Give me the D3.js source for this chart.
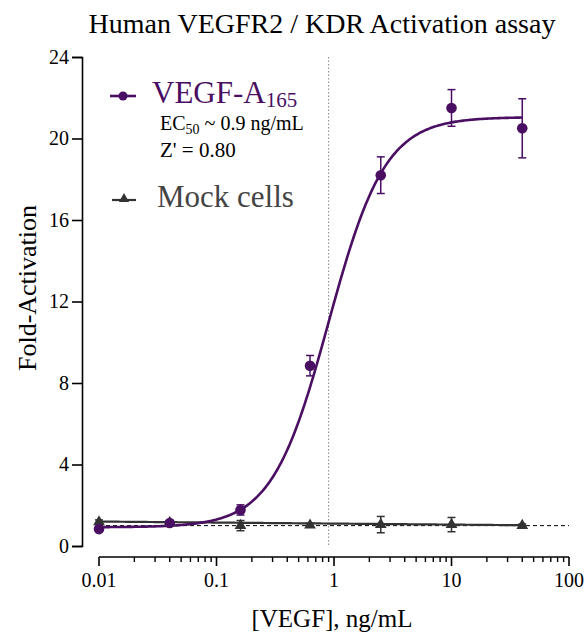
<!DOCTYPE html>
<html>
<head>
<meta charset="utf-8">
<script src="https://cdn.jsdelivr.net/npm/d3@7"></script>
<style>
  body { margin: 0; background: #fff; }
  svg text { font-family: "Liberation Serif", "Times New Roman", "DejaVu Serif", serif; }
</style>
</head>
<body>
<svg id="chart" width="585" height="632" font-family="Liberation Serif"></svg>
<script>
// concentrations (ng/mL)
const conc = [0.01, 0.04, 0.16, 0.625, 2.5, 10, 40];
// VEGF-A165 fold activation + error
const vegfMean = [0.83, 1.13, 1.77, 8.85, 18.2, 21.5, 20.5];
const vegfErr = [0.1, 0.1, 0.25, 0.5, 0.9, 0.9, 1.45];
// mock cells
const mockMean = [1.18, 1.15, 1.0, 1.02, 1.05, 1.05, 1.0];
const mockErr = [0.1, 0.08, 0.25, 0.1, 0.4, 0.35, 0.08];
// 4PL fit of VEGF curve
const vegfFit = { bottom: 0.92, top: 21.05, ec50: 0.9, hill: 1.8 };
// mock linear fit (value at 0.01, change per decade)
const mockFit = { start: 1.2, slope: -0.05 };
const xTicks = [0.01, 0.1, 1, 10, 100];
const yTicks = [0, 4, 8, 12, 16, 20, 24];

const purple = "#4a0f62";
const grey = "#333";
const serif = "Liberation Serif";

const svg = d3.select("#chart");

const x = d3.scaleLog().domain([0.01, 100]).range([99, 569]);
const y = d3.scaleLinear().domain([0, 24]).range([546, 57]);

// title
svg.append("text")
    .attr("x", 322).attr("y", 33)
    .attr("text-anchor", "middle")
    .attr("font-family", serif)
    .attr("font-size", 28)
    .text("Human VEGFR2 / KDR Activation assay");

// y axis
const yAxis = svg.append("g")
    .attr("transform", "translate(82,0)")
    .call(d3.axisLeft(y).tickValues(yTicks).tickSize(10).tickPadding(3));
yAxis.attr("font-family", serif);
yAxis.select(".domain").attr("stroke-width", 1.6);
yAxis.selectAll(".tick line").attr("stroke-width", 1.6);
yAxis.selectAll(".tick text").attr("font-size", 20).attr("font-family", serif);

// x axis with minor ticks
const minor = [];
for (let d = -2; d < 2; d++) {
    for (let k = 2; k <= 9; k++) minor.push(k * Math.pow(10, d));
}
const xg = svg.append("g").attr("transform", "translate(0,557)");
xg.append("line")
    .attr("x1", x(0.01)).attr("x2", x(100))
    .attr("stroke", "#000").attr("stroke-width", 1.6);
xg.selectAll(".minor").data(minor).enter().append("line")
    .attr("x1", (d) => x(d)).attr("x2", (d) => x(d))
    .attr("y1", 0).attr("y2", 5)
    .attr("stroke", "#000").attr("stroke-width", 1.4);
xg.selectAll(".major").data(xTicks).enter().append("line")
    .attr("x1", (d) => x(d)).attr("x2", (d) => x(d))
    .attr("y1", 0).attr("y2", 9)
    .attr("stroke", "#000").attr("stroke-width", 1.6);
xg.selectAll(".lbl").data(xTicks).enter().append("text")
    .attr("x", (d) => x(d)).attr("y", 30)
    .attr("text-anchor", "middle")
    .attr("font-family", serif)
    .attr("font-size", 20)
    .text((d) => String(d));

// axis titles
svg.append("text")
    .attr("transform", "translate(36,288) rotate(-90)")
    .attr("text-anchor", "middle")
    .attr("font-family", serif)
    .attr("font-size", 26)
    .text("Fold-Activation");
svg.append("text")
    .attr("x", 332).attr("y", 627)
    .attr("text-anchor", "middle")
    .attr("font-family", serif)
    .attr("font-size", 25)
    .text("[VEGF], ng/mL");

// reference lines
svg.append("line")
    .attr("x1", x(0.01)).attr("x2", x(100))
    .attr("y1", y(1)).attr("y2", y(1))
    .attr("stroke", "#000").attr("stroke-width", 1)
    .attr("stroke-dasharray", "4,3");
svg.append("line")
    .attr("x1", x(vegfFit.ec50)).attr("x2", x(vegfFit.ec50))
    .attr("y1", y(24)).attr("y2", y(0))
    .attr("stroke", "#888").attr("stroke-width", 1)
    .attr("stroke-dasharray", "1.5,2");

// fitted curves
const xs = d3.range(0, 301).map((i) => Math.pow(10, -2 + (i / 300) * Math.log10(4000)));
const fourPL = (c) => vegfFit.bottom + (vegfFit.top - vegfFit.bottom) / (1 + Math.pow(vegfFit.ec50 / c, vegfFit.hill));
const mockLine = (c) => mockFit.start + mockFit.slope * (Math.log10(c) + 2);
const line = d3.line().x((d) => x(d[0])).y((d) => y(d[1]));

svg.append("path")
    .attr("d", line(xs.map((c) => [c, mockLine(c)])))
    .attr("fill", "none").attr("stroke", grey).attr("stroke-width", 2.2);
svg.append("path")
    .attr("d", line(xs.map((c) => [c, fourPL(c)])))
    .attr("fill", "none").attr("stroke", purple).attr("stroke-width", 2.6);

// error bars
function errorBars(mean, err, color) {
    const g = svg.append("g").attr("stroke", color).attr("stroke-width", 1.5);
    conc.forEach((c, i) => {
        const cx = x(c);
        const y0 = y(mean[i] - err[i]);
        const y1 = y(mean[i] + err[i]);
        g.append("line").attr("x1", cx).attr("x2", cx).attr("y1", y0).attr("y2", y1);
        g.append("line").attr("x1", cx - 4).attr("x2", cx + 4).attr("y1", y0).attr("y2", y0);
        g.append("line").attr("x1", cx - 4).attr("x2", cx + 4).attr("y1", y1).attr("y2", y1);
    });
}
errorBars(mockMean, mockErr, grey);
errorBars(vegfMean, vegfErr, purple);

const tri = d3.symbol().type(d3.symbolTriangle).size(60);
svg.selectAll(".mock").data(conc).enter().append("path")
    .attr("d", tri)
    .attr("transform", (d, i) => `translate(${x(d)},${y(mockMean[i])})`)
    .attr("fill", grey);

svg.selectAll(".vegf").data(conc).enter().append("circle")
    .attr("cx", (d) => x(d))
    .attr("cy", (d, i) => y(vegfMean[i]))
    .attr("r", 5.3)
    .attr("fill", purple);

// legend
const leg = svg.append("g").attr("font-family", serif);
leg.append("line").attr("x1", 110).attr("x2", 136).attr("y1", 96).attr("y2", 96)
    .attr("stroke", purple).attr("stroke-width", 2.6);
leg.append("circle").attr("cx", 123).attr("cy", 96).attr("r", 4.5).attr("fill", purple);
const vt = leg.append("text").attr("x", 152).attr("y", 103)
    .attr("font-family", serif)
    .attr("font-size", 31).attr("fill", purple);
vt.append("tspan").text("VEGF-A");
vt.append("tspan").attr("dy", 4).attr("font-size", 21).text("165");

const ec = leg.append("text").attr("x", 160).attr("y", 130)
    .attr("font-family", serif).attr("font-size", 20);
ec.append("tspan").text("EC");
ec.append("tspan").attr("dy", 4).attr("font-size", 14).text("50");
ec.append("tspan").attr("dy", -4).text(" ~ 0.9 ng/mL");
leg.append("text").attr("x", 160).attr("y", 157)
    .attr("font-family", serif).attr("font-size", 21).text("Z' = 0.80");

leg.append("line").attr("x1", 112).attr("x2", 136).attr("y1", 200).attr("y2", 200)
    .attr("stroke", grey).attr("stroke-width", 2.2);
leg.append("path").attr("d", d3.symbol().type(d3.symbolTriangle).size(45))
    .attr("transform", "translate(124,199)").attr("fill", grey);
leg.append("text").attr("x", 157).attr("y", 207)
    .attr("font-family", serif).attr("font-size", 31).attr("fill", "#444")
    .text("Mock cells");
</script>
</body>
</html>
